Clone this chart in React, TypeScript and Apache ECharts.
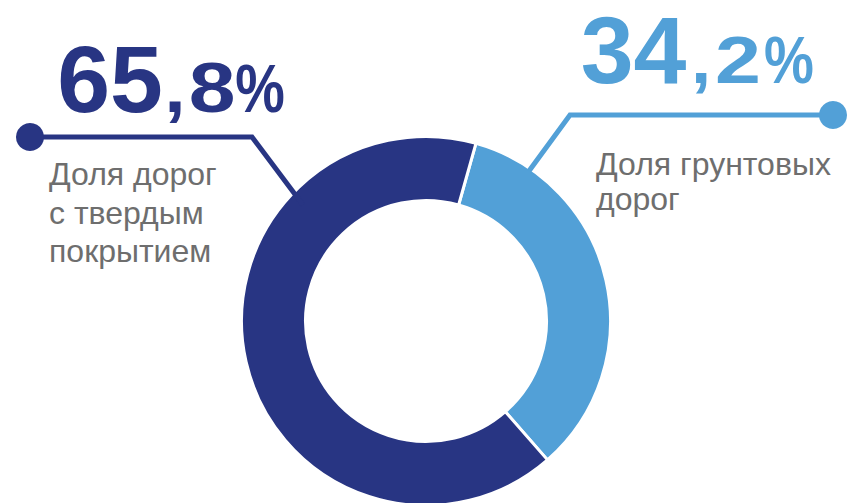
import React, { useEffect, useRef } from "react";
import * as echarts from "echarts";

const categories = ["Доля грунтовых дорог", "Доля дорог с твердым покрытием"];
const values = [34.2, 65.8];
const labelLines = [["Доля грунтовых", "дорог"], ["Доля дорог", "с твердым", "покрытием"]];

const DARK = "#283583";
const LIGHT = "#52a0d7";
const GRAY = "#6e6e6e";
const FONT = "'Liberation Sans', Arial, Helvetica, sans-serif";
const CENTRAL = 0.3465; // distance from alphabetic baseline to 'central' baseline, in em

function splitValue(v: number) {
  const [i, d] = v.toFixed(1).split(".");
  return { int: i, dec: d };
}

export default function App() {
  const ref = useRef<HTMLDivElement>(null);
  useEffect(() => {
    if (!ref.current) return;
    const chart = echarts.init(ref.current, null, { renderer: "svg" });
    const light = splitValue(values[0]);
    const dark = splitValue(values[1]);

    const bigText = (text: string, x: number, base: number, size: number, color: string, sx = 1) => ({
      type: "text",
      x,
      y: base - CENTRAL * size,
      scaleX: sx,
      z: 10,
      style: {
        text,
        x: 0,
        y: 0,
        fill: color,
        font: `bold ${size}px ${FONT}`,
        align: "center",
        verticalAlign: "middle",
      },
    });
    const smallText = (text: string, x: number, base: number) => ({
      type: "text",
      x,
      y: base - CENTRAL * 32,
      z: 10,
      style: {
        text,
        x: 0,
        y: 0,
        fill: GRAY,
        font: `32px ${FONT}`,
        align: "left",
        verticalAlign: "middle",
      },
    });

    chart.setOption({
      animation: false,
      backgroundColor: "#ffffff",
      series: [
        {
          type: "pie",
          center: [426, 321],
          radius: [120.5, 184.5],
          startAngle: 74.3,
          clockwise: true,
          label: { show: false },
          labelLine: { show: false },
          silent: true,
          itemStyle: { borderColor: "#ffffff", borderWidth: 3 },
          data: [
            { name: categories[0], value: values[0], itemStyle: { color: LIGHT } },
            { name: categories[1], value: values[1], itemStyle: { color: DARK } },
          ],
        },
      ],
      graphic: [
        {
          type: "polyline",
          z: 5,
          shape: { points: [[30, 137], [252, 137], [303, 205]] },
          style: { stroke: DARK, lineWidth: 5, fill: null },
        },
        { type: "circle", z: 6, shape: { cx: 30, cy: 137, r: 14 }, style: { fill: DARK } },
        {
          type: "polyline",
          z: 5,
          shape: { points: [[833, 115], [570, 115], [529, 171]] },
          style: { stroke: LIGHT, lineWidth: 5, fill: null },
        },
        { type: "circle", z: 6, shape: { cx: 833, cy: 115, r: 14 }, style: { fill: LIGHT } },
        bigText(dark.int, 110, 111.7, 95, DARK),
        bigText(",", 175, 111.7, 70, DARK, 1.1),
        bigText(dark.dec, 212, 111.7, 70, DARK, 1.2),
        bigText("%", 260, 111.7, 68, DARK, 0.82),
        bigText(light.int, 633.5, 83.3, 95, LIGHT),
        bigText(",", 701, 83.3, 66, LIGHT, 1.1),
        bigText(light.dec, 738, 83.3, 66, LIGHT, 1.25),
        bigText("%", 789, 83.3, 66, LIGHT, 0.85),
        smallText(labelLines[1][0], 49, 185),
        smallText(labelLines[1][1], 49, 224),
        smallText(labelLines[1][2], 49, 262),
        smallText(labelLines[0][0], 596, 175),
        smallText(labelLines[0][1], 596, 210),
      ],
    });
    return () => chart.dispose();
  }, []);
  return (
    <div
      ref={ref}
      style={{ position: "fixed", left: 0, top: 0, width: 851, height: 503 }}
    />
  );
}
